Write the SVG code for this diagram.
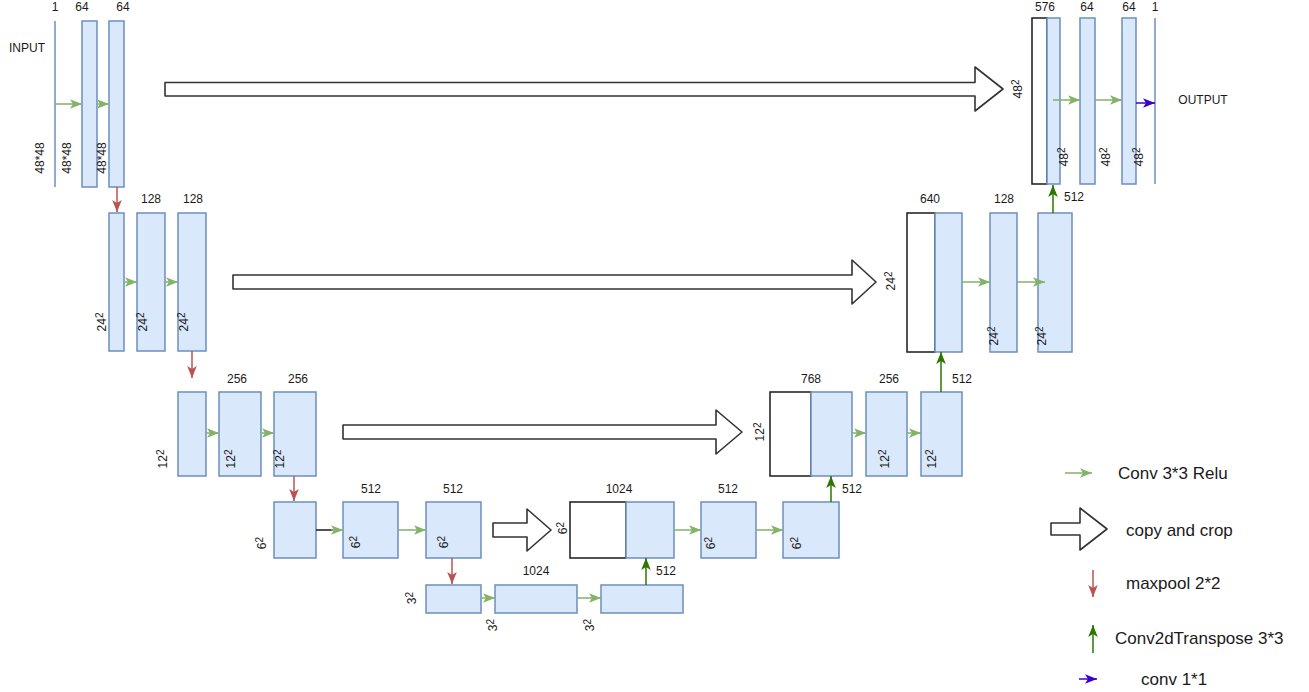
<svg xmlns="http://www.w3.org/2000/svg" width="1309" height="692" viewBox="0 0 1309 692">
<style>
.b{fill:#dae8fc;stroke:#6c8ebf;stroke-width:1.5}
.w{fill:#ffffff;stroke:#1a1a1a;stroke-width:1.5}
.ln{stroke:#6c8ebf;stroke-width:1.5;fill:none}
.t{font-family:"Liberation Sans",Arial,sans-serif;font-size:12px;fill:#1a1a1a;text-anchor:middle}
.r{font-family:"Liberation Sans",Arial,sans-serif;font-size:12px;fill:#1a1a1a;text-anchor:middle;dominant-baseline:central}
.s{font-size:10px}
.lg{font-family:"Liberation Sans",Arial,sans-serif;font-size:17px;fill:#1a1a1a;dominant-baseline:central}
.g{stroke:#82b366;stroke-width:1.5;fill:none;marker-end:url(#mg)}
.rd{stroke:#b85450;stroke-width:1.5;fill:none;marker-end:url(#mr)}
.dg{stroke:#2d7600;stroke-width:1.5;fill:none;marker-end:url(#md)}
.pu{stroke:#3700cc;stroke-width:1.5;fill:none;marker-end:url(#mp)}
.cp{fill:#ffffff;stroke:#333333;stroke-width:1.6;stroke-linejoin:round}
</style>
<defs>
<marker id="mg" viewBox="0 0 10 8" markerWidth="12" markerHeight="10" refX="10" refY="4" orient="auto" markerUnits="userSpaceOnUse"><path d="M0,0 L10,4 L0,8 L2.5,4 Z" fill="#82b366"/></marker>
<marker id="mr" viewBox="0 0 10 8" markerWidth="12" markerHeight="10" refX="10" refY="4" orient="auto" markerUnits="userSpaceOnUse"><path d="M0,0 L10,4 L0,8 L2.5,4 Z" fill="#b85450"/></marker>
<marker id="md" viewBox="0 0 10 8" markerWidth="12" markerHeight="10" refX="10" refY="4" orient="auto" markerUnits="userSpaceOnUse"><path d="M0,0 L10,4 L0,8 L2.5,4 Z" fill="#2d7600"/></marker>
<marker id="mp" viewBox="0 0 10 8" markerWidth="12" markerHeight="10" refX="10" refY="4" orient="auto" markerUnits="userSpaceOnUse"><path d="M0,0 L10,4 L0,8 L2.5,4 Z" fill="#3700cc"/></marker>
</defs>
<rect width="1309" height="692" fill="#ffffff"/>

<!-- Level 1 encoder -->
<g id="input">
<line class="ln" x1="55" y1="21" x2="55" y2="187"/>
<text class="t" x="55" y="11">1</text>
<text class="t" x="27" y="52">INPUT</text>
<text class="r" transform="translate(40,158) rotate(-90)">48*48</text>
</g>
<g id="e1a">
<rect class="b" x="82" y="21" width="15" height="166"/>
<text class="t" x="82" y="11">64</text>
<text class="r" transform="translate(67,158) rotate(-90)">48*48</text>
</g>
<g id="e1b">
<rect class="b" x="109" y="21" width="15" height="166"/>
<text class="t" x="123" y="11">64</text>
<text class="r" transform="translate(102,158) rotate(-90)">48*48</text>
</g>

<!-- Level 2 encoder -->
<g id="e2a">
<rect class="b" x="109" y="213" width="15" height="138"/>
<text class="r" transform="translate(102,322) rotate(-90)">24<tspan class="s" dy="-3">2</tspan></text>
</g>
<g id="e2b">
<rect class="b" x="137" y="213" width="28" height="138"/>
<text class="t" x="151" y="203">128</text>
<text class="r" transform="translate(143,322) rotate(-90)">24<tspan class="s" dy="-3">2</tspan></text>
</g>
<g id="e2c">
<rect class="b" x="178" y="213" width="28" height="138"/>
<text class="t" x="193" y="203">128</text>
<text class="r" transform="translate(184,322) rotate(-90)">24<tspan class="s" dy="-3">2</tspan></text>
</g>

<!-- Level 3 encoder -->
<g id="e3a">
<rect class="b" x="178" y="392" width="28" height="84"/>
<text class="r" transform="translate(163,459) rotate(-90)">12<tspan class="s" dy="-3">2</tspan></text>
</g>
<g id="e3b">
<rect class="b" x="219" y="392" width="42" height="84"/>
<text class="t" x="237" y="383">256</text>
<text class="r" transform="translate(231,459) rotate(-90)">12<tspan class="s" dy="-3">2</tspan></text>
</g>
<g id="e3c">
<rect class="b" x="274" y="392" width="42" height="84"/>
<text class="t" x="298" y="383">256</text>
<text class="r" transform="translate(280,459) rotate(-90)">12<tspan class="s" dy="-3">2</tspan></text>
</g>

<!-- Level 4 encoder -->
<g id="e4a">
<rect class="b" x="274" y="502" width="42" height="56"/>
<text class="r" transform="translate(262,543) rotate(-90)">6<tspan class="s" dy="-3">2</tspan></text>
</g>
<g id="e4b">
<rect class="b" x="343" y="502" width="55" height="56"/>
<text class="t" x="371" y="493">512</text>
<text class="r" transform="translate(356,542) rotate(-90)">6<tspan class="s" dy="-3">2</tspan></text>
</g>
<g id="e4c">
<rect class="b" x="426" y="502" width="55" height="56"/>
<text class="t" x="453" y="493">512</text>
<text class="r" transform="translate(444,542) rotate(-90)">6<tspan class="s" dy="-3">2</tspan></text>
</g>

<!-- Level 5 bottleneck -->
<g id="b5a">
<rect class="b" x="426" y="585" width="55" height="28"/>
<text class="r" transform="translate(412,598) rotate(-90)">3<tspan class="s" dy="-3">2</tspan></text>
</g>
<g id="b5b">
<rect class="b" x="495" y="585" width="82" height="28"/>
<text class="t" x="536" y="575">1024</text>
<text class="r" transform="translate(493,625) rotate(-90)">3<tspan class="s" dy="-3">2</tspan></text>
</g>
<g id="b5c">
<rect class="b" x="601" y="585" width="82" height="28"/>
<text class="t" x="666" y="575">512</text>
<text class="r" transform="translate(590,625) rotate(-90)">3<tspan class="s" dy="-3">2</tspan></text>
</g>

<!-- Level 4 decoder -->
<g id="d4a">
<rect class="w" x="570" y="502" width="56" height="56"/>
<rect class="b" x="626" y="502" width="48" height="56"/>
<text class="t" x="619" y="493">1024</text>
<text class="r" transform="translate(563,528) rotate(-90)">6<tspan class="s" dy="-3">2</tspan></text>
</g>
<g id="d4b">
<rect class="b" x="701" y="502" width="55" height="56"/>
<text class="t" x="728" y="493">512</text>
<text class="r" transform="translate(711,543) rotate(-90)">6<tspan class="s" dy="-3">2</tspan></text>
</g>
<g id="d4c">
<rect class="b" x="783" y="502" width="56" height="56"/>
<text class="t" x="852" y="493">512</text>
<text class="r" transform="translate(797,543) rotate(-90)">6<tspan class="s" dy="-3">2</tspan></text>
</g>

<!-- Level 3 decoder -->
<g id="d3a">
<rect class="w" x="770" y="392" width="41" height="84"/>
<rect class="b" x="811" y="392" width="41" height="84"/>
<text class="t" x="811" y="383">768</text>
<text class="r" transform="translate(760,432) rotate(-90)">12<tspan class="s" dy="-3">2</tspan></text>
</g>
<g id="d3b">
<rect class="b" x="866" y="392" width="41" height="84"/>
<text class="t" x="889" y="383">256</text>
<text class="r" transform="translate(885,459) rotate(-90)">12<tspan class="s" dy="-3">2</tspan></text>
</g>
<g id="d3c">
<rect class="b" x="921" y="392" width="41" height="84"/>
<text class="t" x="962" y="383">512</text>
<text class="r" transform="translate(932,459) rotate(-90)">12<tspan class="s" dy="-3">2</tspan></text>
</g>

<!-- Level 2 decoder -->
<g id="d2a">
<rect class="w" x="907" y="213" width="28" height="139"/>
<rect class="b" x="935" y="213" width="27" height="139"/>
<text class="t" x="930" y="203">640</text>
<text class="r" transform="translate(891,281) rotate(-90)">24<tspan class="s" dy="-3">2</tspan></text>
</g>
<g id="d2b">
<rect class="b" x="990" y="213" width="27" height="139"/>
<text class="t" x="1004" y="203">128</text>
<text class="r" transform="translate(994,336) rotate(-90)">24<tspan class="s" dy="-3">2</tspan></text>
</g>
<g id="d2c">
<rect class="b" x="1038" y="213" width="34" height="139"/>
<text class="t" x="1074" y="201">512</text>
<text class="r" transform="translate(1042,336) rotate(-90)">24<tspan class="s" dy="-3">2</tspan></text>
</g>

<!-- Level 1 decoder -->
<g id="d1a">
<rect class="w" x="1032" y="18" width="15" height="166"/>
<rect class="b" x="1047" y="18" width="13" height="166"/>
<text class="t" x="1045" y="11">576</text>
<text class="r" transform="translate(1018,89) rotate(-90)">48<tspan class="s" dy="-3">2</tspan></text>
<text class="r" transform="translate(1064,157) rotate(-90)">48<tspan class="s" dy="-3">2</tspan></text>
</g>
<g id="d1b">
<rect class="b" x="1080" y="18" width="15" height="166"/>
<text class="t" x="1087" y="11">64</text>
<text class="r" transform="translate(1106,157) rotate(-90)">48<tspan class="s" dy="-3">2</tspan></text>
</g>
<g id="d1c">
<rect class="b" x="1122" y="18" width="14" height="166"/>
<text class="t" x="1129" y="11">64</text>
<text class="r" transform="translate(1139,157) rotate(-90)">48<tspan class="s" dy="-3">2</tspan></text>
</g>
<g id="output">
<line class="ln" x1="1155" y1="18" x2="1155" y2="184"/>
<text class="t" x="1155" y="11">1</text>
<text class="t" x="1203" y="104">OUTPUT</text>
</g>

<!-- Connectors -->
<g id="connectors">
<line class="g" x1="55" y1="104" x2="82" y2="104"/>
<line class="g" x1="97" y1="104" x2="109" y2="104"/>
<line class="rd" x1="117" y1="187" x2="117" y2="212"/>
<line class="g" x1="124" y1="282" x2="137" y2="282"/>
<line class="g" x1="165" y1="282" x2="178" y2="282"/>
<line class="rd" x1="192" y1="351" x2="192" y2="378"/>
<line class="g" x1="206" y1="433" x2="219" y2="433"/>
<line class="g" x1="261" y1="433" x2="274" y2="433"/>
<line class="rd" x1="294" y1="476" x2="294" y2="501"/>
<line x1="316" y1="530" x2="333" y2="530" stroke="#1a1a1a" stroke-width="1.5"/>
<line class="g" x1="331" y1="530" x2="343" y2="530"/>
<line class="g" x1="398" y1="530" x2="426" y2="530"/>
<line class="rd" x1="452" y1="558" x2="452" y2="584"/>
<line class="g" x1="481" y1="598" x2="495" y2="598"/>
<line class="g" x1="578" y1="598" x2="601" y2="598"/>
<line class="dg" x1="646" y1="585" x2="646" y2="558"/>
<line class="g" x1="674" y1="530" x2="701" y2="530"/>
<line class="g" x1="756" y1="530" x2="783" y2="530"/>
<line class="dg" x1="831" y1="502" x2="831" y2="476"/>
<line class="g" x1="852" y1="433" x2="866" y2="433"/>
<line class="g" x1="907" y1="433" x2="921" y2="433"/>
<line class="dg" x1="941" y1="392" x2="941" y2="352"/>
<line class="g" x1="962" y1="282" x2="990" y2="282"/>
<line class="g" x1="1017" y1="282" x2="1045" y2="282"/>
<line class="dg" x1="1053" y1="213" x2="1053" y2="185"/>
<line class="g" x1="1053" y1="100" x2="1080" y2="100"/>
<line class="g" x1="1095" y1="100" x2="1122" y2="100"/>
<line class="pu" x1="1136" y1="103" x2="1155" y2="103"/>
<polygon class="cp" points="165,82.5 975,82.5 975,67 1003,89 975,111 975,96 165,96"/>
<polygon class="cp" points="233,275 852,275 852,260 876,282 852,304 852,289 233,289"/>
<polygon class="cp" points="343,425 716,425 716,410 742,432 716,454 716,439 343,439"/>
<polygon class="cp" points="493,523 527,523 527,509 551,530 527,551 527,537 493,537"/>
</g>

<!-- Legend -->
<g id="legend">
<line class="g" x1="1065" y1="473" x2="1092" y2="473"/>
<text class="lg" x="1118" y="473">Conv 3*3 Relu</text>
<polygon class="cp" points="1051,523 1080,523 1080,508 1107,529 1080,550 1080,535 1051,535"/>
<text class="lg" x="1126" y="530">copy and crop</text>
<line class="rd" x1="1093" y1="570" x2="1093" y2="597"/>
<text class="lg" x="1126" y="583">maxpool 2*2</text>
<line class="dg" x1="1093" y1="653" x2="1093" y2="625"/>
<text class="lg" x="1115" y="638">Conv2dTranspose 3*3</text>
<line class="pu" x1="1079" y1="679" x2="1097" y2="679"/>
<text class="lg" x="1141" y="679">conv 1*1</text>
</g>
</svg>
